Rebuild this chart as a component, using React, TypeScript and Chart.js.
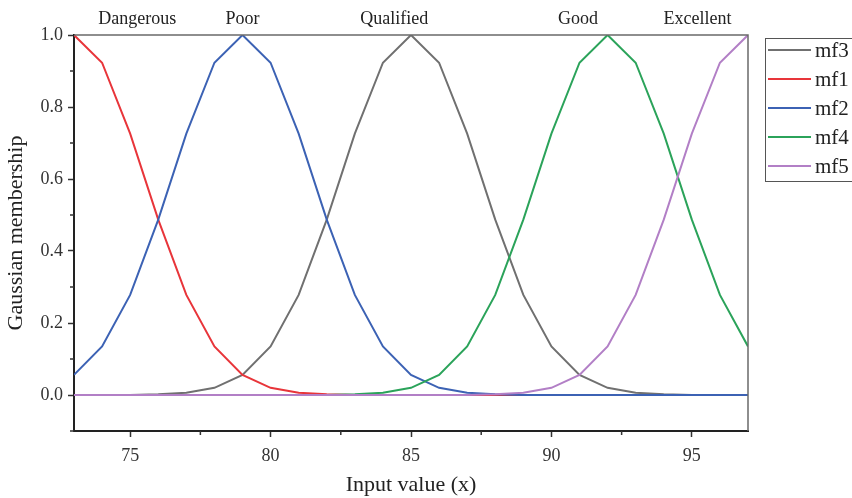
import React, { useEffect, useRef } from "react";
import { Chart, registerables } from "chart.js";

Chart.register(...registerables);

const xValues = [73, 74, 75, 76, 77, 78, 79, 80, 81, 82, 83, 84, 85, 86, 87, 88, 89, 90, 91, 92, 93, 94, 95, 96, 97];
const mf1 = [1, 0.923, 0.726, 0.487, 0.278, 0.135, 0.056, 0.02, 0.006, 0.002, 0, 0, 0, 0, 0, 0, 0, 0, 0, 0, 0, 0, 0, 0, 0];
const mf2 = [0.056, 0.135, 0.278, 0.487, 0.726, 0.923, 1, 0.923, 0.726, 0.487, 0.278, 0.135, 0.056, 0.02, 0.006, 0.002, 0, 0, 0, 0, 0, 0, 0, 0, 0];
const mf3 = [0, 0, 0, 0.002, 0.006, 0.02, 0.056, 0.135, 0.278, 0.487, 0.726, 0.923, 1, 0.923, 0.726, 0.487, 0.278, 0.135, 0.056, 0.02, 0.006, 0.002, 0, 0, 0];
const mf4 = [0, 0, 0, 0, 0, 0, 0, 0, 0, 0, 0.002, 0.006, 0.02, 0.056, 0.135, 0.278, 0.487, 0.726, 0.923, 1, 0.923, 0.726, 0.487, 0.278, 0.135];
const mf5 = [0, 0, 0, 0, 0, 0, 0, 0, 0, 0, 0, 0, 0, 0, 0, 0.002, 0.006, 0.02, 0.056, 0.135, 0.278, 0.487, 0.726, 0.923, 1];

const seriesNames = ["mf3", "mf1", "mf2", "mf4", "mf5"];
const seriesValues = [mf3, mf1, mf2, mf4, mf5];
const seriesColors = ["#707070", "#e8353a", "#3c62b4", "#2ba35a", "#b27fc6"];

const xTicks = [75, 80, 85, 90, 95];
const xMinorTicks = [77.5, 82.5, 87.5, 92.5];
const yTicks = [0, 0.2, 0.4, 0.6, 0.8, 1.0];
const yMinorTicks = [-0.1, 0.1, 0.3, 0.5, 0.7, 0.9];

const topLabels = ["Dangerous", "Poor", "Qualified", "Good", "Excellent"];
const topLabelX = [75.25, 79, 84.4, 90.95, 95.2];

const FONT = "'Liberation Serif', 'Times New Roman', serif";

const decorPlugin = {
  id: "decor",
  afterDraw(chart: any) {
    const ctx = chart.ctx;
    const { left, right, top, bottom } = chart.chartArea;
    const xs = chart.scales.x;
    const ys = chart.scales.y;
    ctx.save();
    // top & right frame
    ctx.strokeStyle = "#6a6a6a";
    ctx.lineWidth = 1.5;
    ctx.beginPath();
    ctx.moveTo(left, top);
    ctx.lineTo(right, top);
    ctx.lineTo(right, bottom);
    ctx.stroke();
    // minor ticks
    ctx.strokeStyle = "#333";
    ctx.lineWidth = 1.5;
    ctx.beginPath();
    for (const v of xMinorTicks) {
      const px = xs.getPixelForValue(v);
      ctx.moveTo(px, bottom);
      ctx.lineTo(px, bottom + 4);
    }
    for (const v of yMinorTicks) {
      const py = ys.getPixelForValue(v);
      ctx.moveTo(left, py);
      ctx.lineTo(left - 4, py);
    }
    ctx.stroke();
    // top labels
    ctx.fillStyle = "#222";
    ctx.font = `18px ${FONT}`;
    ctx.textAlign = "center";
    ctx.textBaseline = "middle";
    topLabels.forEach((t, i) => {
      ctx.fillText(t, xs.getPixelForValue(topLabelX[i]), 19);
    });
    // legend
    ctx.strokeStyle = "#555";
    ctx.lineWidth = 1;
    ctx.strokeRect(765.5, 38.5, 100, 143);
    ctx.font = `21px ${FONT}`;
    ctx.textAlign = "left";
    seriesNames.forEach((n, i) => {
      const y = 50 + i * 29;
      ctx.strokeStyle = seriesColors[i];
      ctx.lineWidth = 2;
      ctx.beginPath();
      ctx.moveTo(768, y);
      ctx.lineTo(811, y);
      ctx.stroke();
      ctx.fillStyle = "#222";
      ctx.fillText(n, 815, y + 1);
    });
    ctx.restore();
  },
};

export default function App() {
  const ref = useRef<HTMLCanvasElement | null>(null);
  useEffect(() => {
    document.body.style.margin = "0";
    const canvas = ref.current!;
    const chart = new Chart(canvas, {
      type: "line",
      data: {
        labels: xValues,
        datasets: seriesNames.map((n, i) => ({
          label: n,
          data: xValues.map((x, j) => ({ x, y: seriesValues[i][j] })),
          borderColor: seriesColors[i],
          backgroundColor: seriesColors[i],
          borderWidth: 2,
          pointRadius: 0,
          tension: 0,
          fill: false,
          order: 5 - i,
        })),
      },
      options: {
        animation: false,
        responsive: false,
        events: [],
        layout: { padding: { left: 0, top: 35, right: 104, bottom: 0 } },
        plugins: { legend: { display: false }, tooltip: { enabled: false } },
        scales: {
          x: {
            type: "linear",
            min: 73,
            max: 97,
            afterBuildTicks: (s: any) => {
              s.ticks = xTicks.map((v) => ({ value: v }));
            },
            afterFit: (s: any) => {
              s.height = 67;
            },
            grid: { drawOnChartArea: false, drawTicks: true, tickLength: 6, tickWidth: 1.5, tickColor: "#333" },
            border: { display: true, color: "#222", width: 2 },
            ticks: {
              color: "#333",
              font: { family: FONT, size: 18 },
              padding: 8,
              maxRotation: 0,
              autoSkip: false,
              callback: (v: any) => String(v),
            },
            title: {
              display: true,
              text: "Input value (x)",
              color: "#222",
              font: { family: FONT, size: 22 },
              padding: { top: 0, bottom: 0 },
            },
          },
          y: {
            type: "linear",
            min: -0.1,
            max: 1.0,
            afterBuildTicks: (s: any) => {
              s.ticks = yTicks.map((v) => ({ value: v }));
            },
            afterFit: (s: any) => {
              s.width = 74;
            },
            grid: { drawOnChartArea: false, drawTicks: true, tickLength: 6, tickWidth: 1.5, tickColor: "#333" },
            border: { display: true, color: "#222", width: 2 },
            ticks: {
              color: "#333",
              font: { family: FONT, size: 18 },
              padding: 5,
              autoSkip: false,
              callback: (v: any) => Number(v).toFixed(1),
            },
            title: {
              display: true,
              text: "Gaussian membership",
              color: "#222",
              font: { family: FONT, size: 22 },
              padding: { top: 3, bottom: 0 },
            },
          },
        },
      },
      plugins: [decorPlugin],
    });
    return () => chart.destroy();
  }, []);
  return (
    <div style={{ position: "fixed", left: 0, top: 0, width: 852, height: 498 }}>
      <canvas ref={ref} width={852} height={498} />
    </div>
  );
}
